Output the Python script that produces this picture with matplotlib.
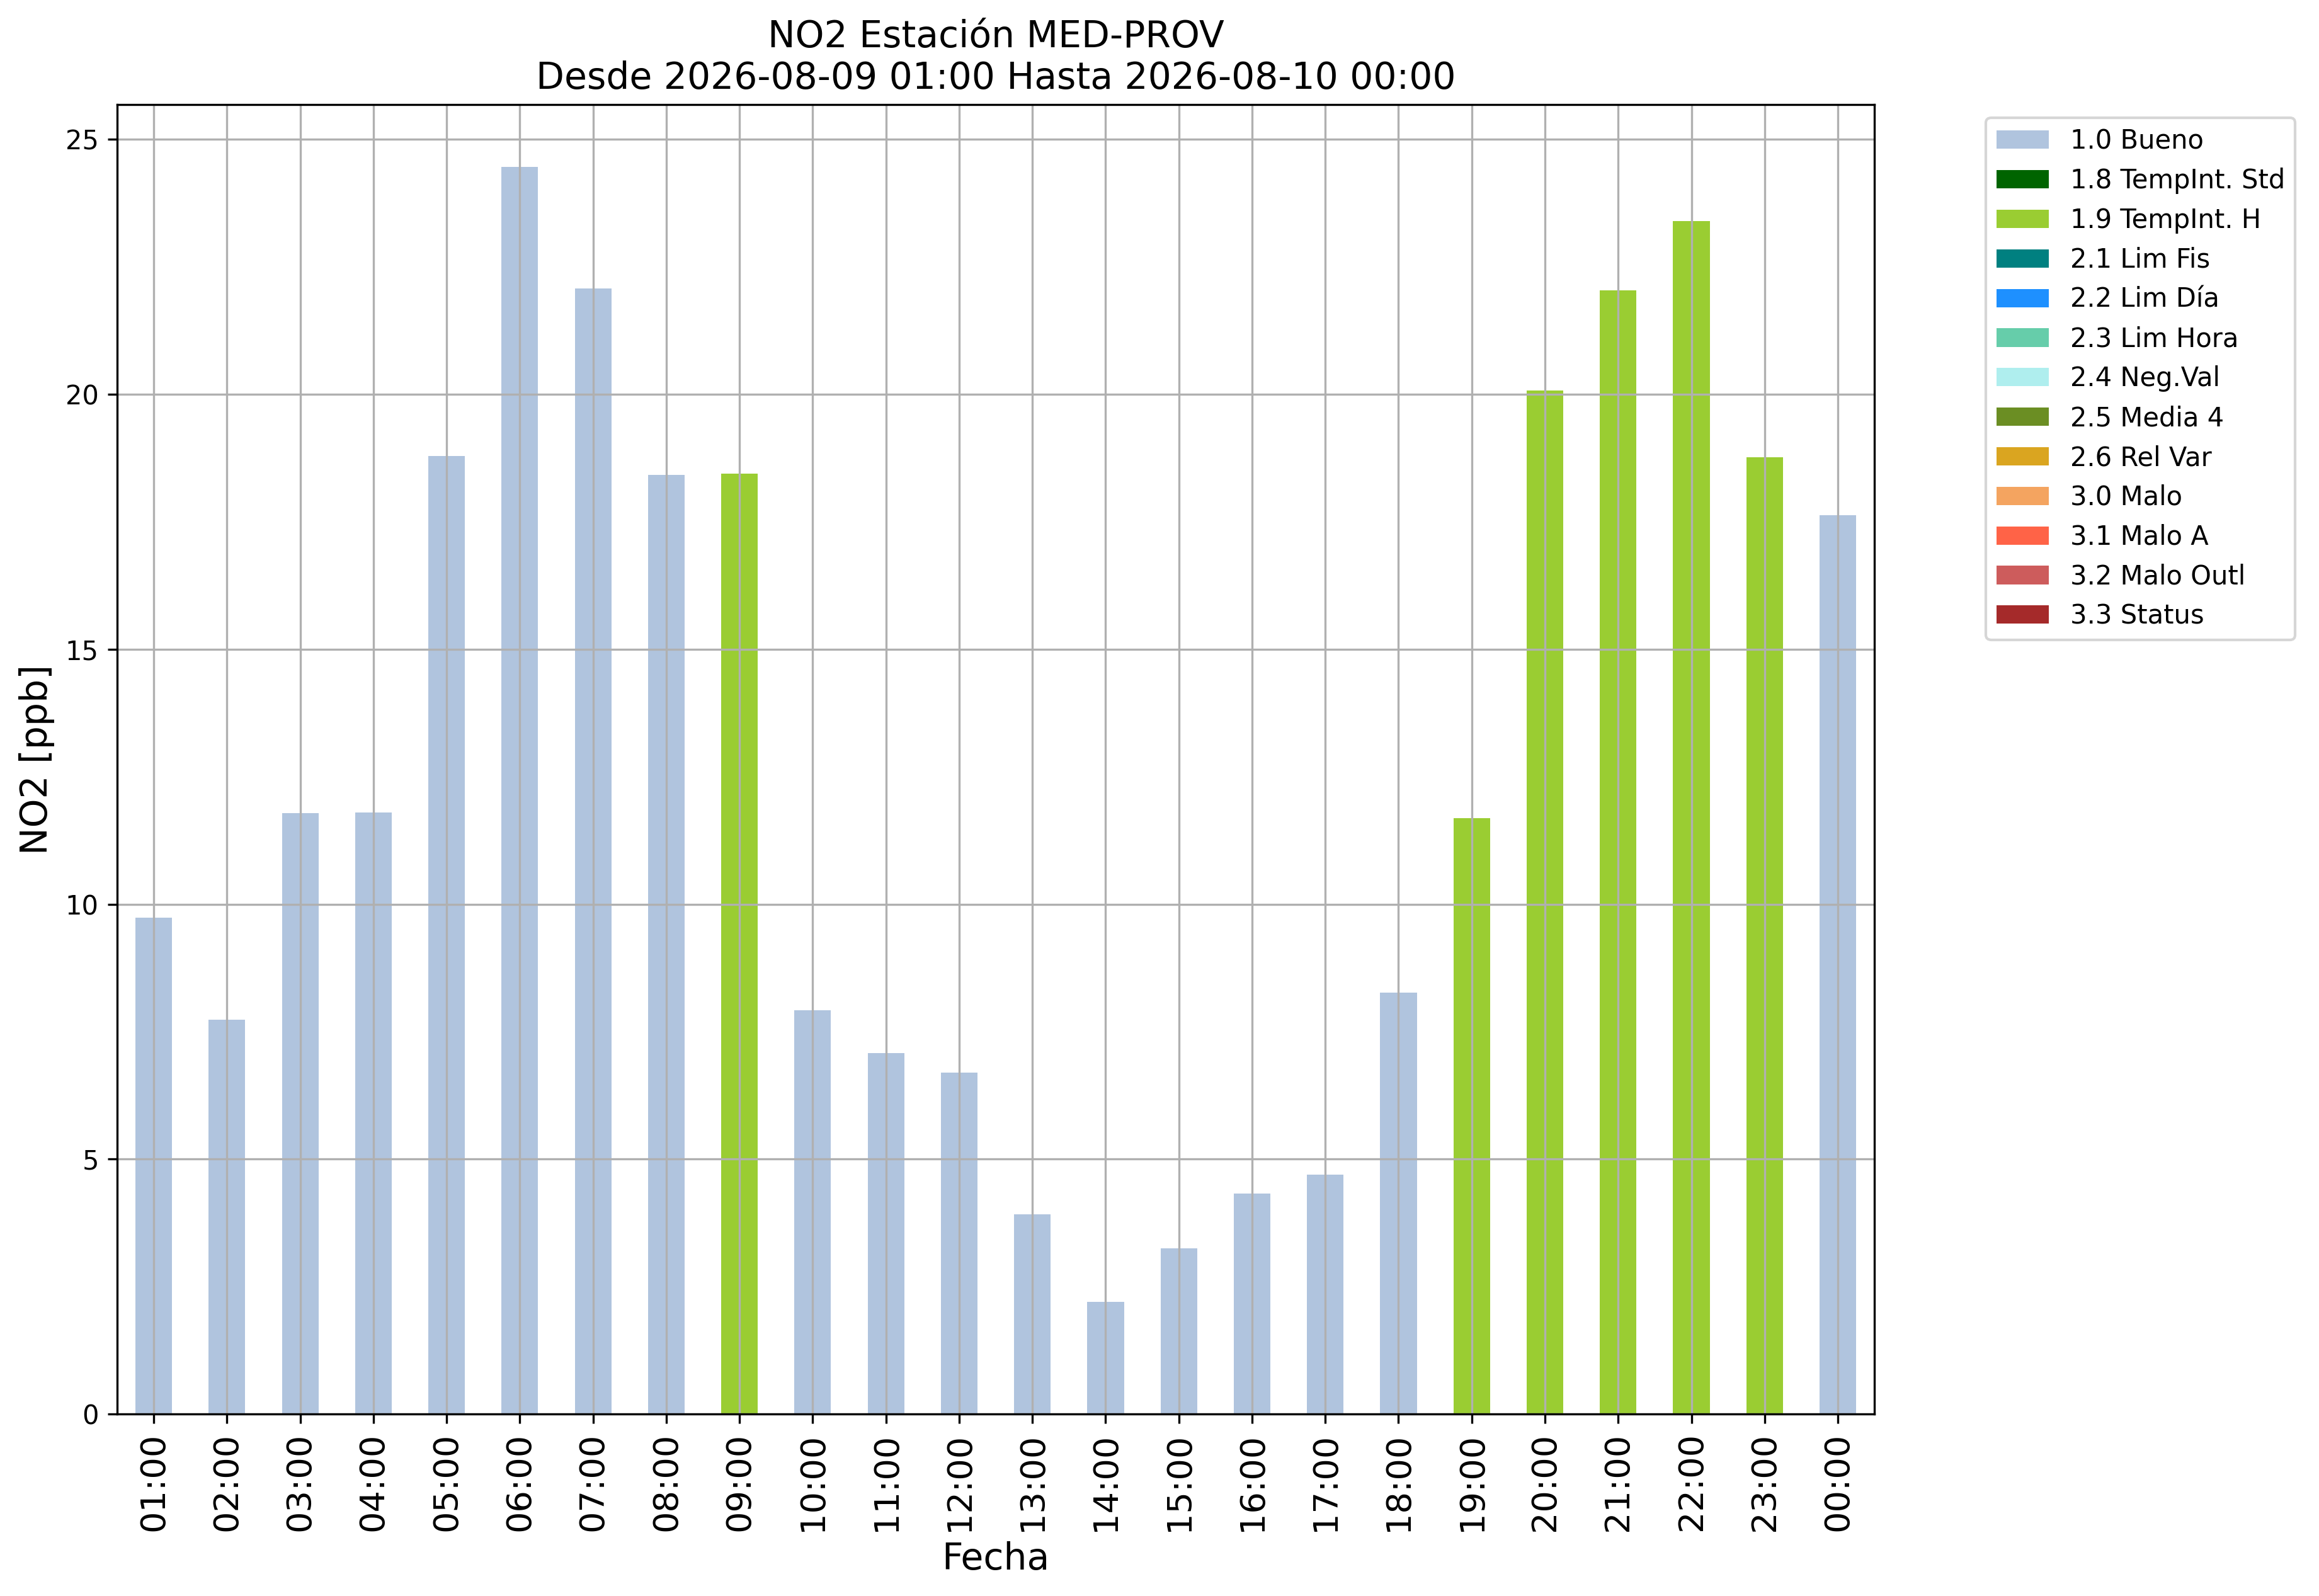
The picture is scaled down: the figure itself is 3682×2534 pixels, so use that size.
import numpy as np
import pandas as pd
import matplotlib
matplotlib.use("Agg")
import matplotlib.pyplot as plt

# horas (etiquetas eje x)
horas = ["01:00", "02:00", "03:00", "04:00", "05:00", "06:00", "07:00", "08:00",
         "09:00", "10:00", "11:00", "12:00", "13:00", "14:00", "15:00", "16:00",
         "17:00", "18:00", "19:00", "20:00", "21:00", "22:00", "23:00", "00:00"]

# valores NO2 [ppb]
no2 = [9.74, 7.74, 11.78, 11.80, 18.79, 24.46, 22.07, 18.42,
       18.45, 7.92, 7.08, 6.70, 3.92, 2.20, 3.25, 4.32,
       4.70, 8.27, 11.69, 20.07, 22.04, 23.40, 18.76, 17.63]

# flag de calidad de cada hora
flags = ["1.0 Bueno"] * 8 + ["1.9 TempInt. H"] + ["1.0 Bueno"] * 9 + \
        ["1.9 TempInt. H"] * 5 + ["1.0 Bueno"]

# categorias de flag y sus colores
categorias = ["1.0 Bueno", "1.8 TempInt. Std", "1.9 TempInt. H", "2.1 Lim Fis",
              "2.2 Lim Día", "2.3 Lim Hora", "2.4 Neg.Val", "2.5 Media 4",
              "2.6 Rel Var", "3.0 Malo", "3.1 Malo A", "3.2 Malo Outl", "3.3 Status"]
colores = ["lightsteelblue", "darkgreen", "yellowgreen", "teal",
           "dodgerblue", "mediumaquamarine", "paleturquoise", "olivedrab",
           "goldenrod", "sandybrown", "tomato", "indianred", "brown"]

# tabla apilada: una columna por flag
df = pd.DataFrame(0.0, index=horas, columns=categorias)
for h, v, f in zip(horas, no2, flags):
    df.loc[h, f] = v

fig = plt.figure(figsize=(3682 / 300, 2534 / 300), dpi=300)
ax = fig.add_axes([0.0505, 0.1140, 0.8083 - 0.0505, 0.9345 - 0.1140])

df.plot(kind="bar", stacked=True, color=colores, ax=ax, linewidth=0, legend=False)

ax.grid(True)
ax.set_title("NO2 Estación MED-PROV\nDesde 2026-08-09 01:00 Hasta 2026-08-10 00:00",
             fontsize=14)
ax.set_xlabel("Fecha", fontsize=14)
ax.set_ylabel("NO2 [ppb]", fontsize=14)
ax.tick_params(axis="x", labelsize=13, labelrotation=90)
ax.tick_params(axis="y", labelsize=10)

ax.legend(loc="upper left", bbox_to_anchor=(1.056, 1.0), fontsize=10)

fig.savefig("out.png", dpi=300)
